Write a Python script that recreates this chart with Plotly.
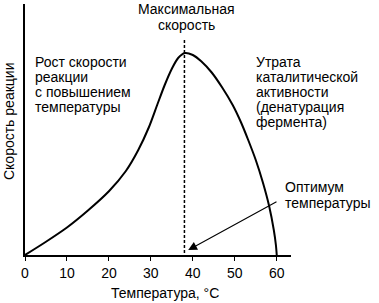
import plotly.graph_objects as go

# Data
temperature = [0, 5, 10, 15, 20, 24, 27, 29.5, 31.5, 33.3, 35, 36.5, 38.1,
               40, 42, 44.5, 47, 49.5, 51.5, 53.2, 55, 56.7, 58.2, 59.3, 59.8, 60]
rate = [0, 5.3, 11, 17.8, 25.5, 33.5, 42, 51, 60, 68, 74.5, 78.8, 80.8,
        80, 77.5, 73, 67, 60, 53, 46, 38, 29, 19.5, 10, 4, 0]
optimum_temp = 38.0
x_ticks = [0, 10, 20, 30, 40, 50, 60]

FONT = "Liberation Sans, Arial, sans-serif"
FS = 14

fig = go.Figure()
fig.add_trace(go.Scatter(
    x=temperature, y=rate, mode="lines",
    line=dict(color="black", width=2, shape="spline", smoothing=0.8),
    hoverinfo="skip", showlegend=False,
))
fig.add_trace(go.Scatter(
    x=[optimum_temp, optimum_temp], y=[0.8, 86], mode="lines",
    line=dict(color="black", width=1.5, dash="3px,2px"),
    hoverinfo="skip", showlegend=False,
))

annotations = []

def text_block(lines, x, y0, step, anchor):
    for i, t in enumerate(lines):
        annotations.append(dict(
            x=x, y=y0 - i * step, xref="x", yref="y", text=t, showarrow=False,
            xanchor=anchor, yanchor="middle",
            font=dict(family=FONT, size=FS, color="black"),
        ))

text_block(["Максимальная", "скорость"], 38.6, 98.3, 6.4, "center")
text_block(["Рост скорости", "реакции", "с повышением", "температуры"], 2.0, 77.2, 6.0, "left")
text_block(["Утрата", "каталитической", "активности", "(денатурация", "фермента)"], 54.5, 77.2, 6.0, "left")
text_block(["Оптимум", "температуры"], 61.6, 27.2, 6.4, "left")

# axis titles
annotations.append(dict(
    x=0.526, y=-0.152, xref="paper", yref="paper", text="Температура, °С",
    showarrow=False, xanchor="center", yanchor="middle",
    font=dict(family=FONT, size=FS, color="black"),
))
annotations.append(dict(
    x=-0.058, y=0.532, xref="paper", yref="paper", text="Скорость реакции",
    showarrow=False, xanchor="center", yanchor="middle", textangle=-90,
    font=dict(family=FONT, size=FS, color="black"),
))

annotations.append(dict(
    x=38.9, y=2.0, ax=60.3, ay=21.6, xref="x", yref="y", axref="x", ayref="y",
    text="", showarrow=True, arrowhead=2, arrowsize=1.6, arrowwidth=1.1, arrowcolor="black",
))

fig.update_layout(
    width=379, height=303,
    margin=dict(l=25, r=88, t=4, b=48),
    paper_bgcolor="white", plot_bgcolor="white",
    font=dict(family=FONT, size=FS, color="black"),
    annotations=annotations,
    xaxis=dict(
        range=[0, 63.4], tickvals=x_ticks, ticktext=[str(v) for v in x_ticks],
        showline=True, linecolor="black", linewidth=1.5,
        ticks="outside", ticklen=4, tickwidth=1.2, tickcolor="black",
        showgrid=False, zeroline=False,
        tickfont=dict(family=FONT, size=FS, color="black"),
    ),
    yaxis=dict(
        range=[0, 100.4], showline=True, linecolor="black", linewidth=1.5,
        showticklabels=False, ticks="", showgrid=False, zeroline=False,
    ),
)

fig.write_html("out.html")
